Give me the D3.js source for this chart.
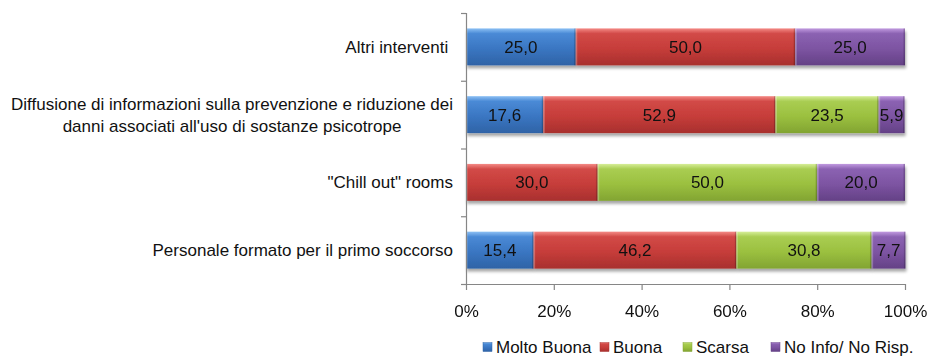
<!DOCTYPE html>
<html>
<head>
<meta charset="utf-8">
<script src="https://cdn.jsdelivr.net/npm/d3@7"></script>
<style>
  html, body { margin: 0; padding: 0; background: #fff; }
  svg { display: block; font-family: "Liberation Sans", Arial, sans-serif; }
</style>
</head>
<body>
<svg id="chart" width="928" height="356"></svg>
<script>
// Categories, top to bottom
const categories = [
  "Altri interventi ",
  "Diffusione di informazioni sulla prevenzione e riduzione dei\ndanni associati all'uso di sostanze psicotrope",
  "\"Chill out\" rooms",
  "Personale formato per il primo soccorso"
];
const seriesNames = ["Molto Buona", "Buona", "Scarsa", "No Info/ No Risp."];
const molto = [25.0, 17.6, 0, 15.4];
const buona = [50.0, 52.9, 30.0, 46.2];
const scarsa = [0, 23.5, 50.0, 30.8];
const noInfo = [25.0, 5.9, 20.0, 7.7];
const tickValues = [0, 20, 40, 60, 80, 100];

const seriesValues = [molto, buona, scarsa, noInfo];
const palette = [
  { top: "#8cc0f4", mid: "#4a8ad6", base: "#3a76c2", dark: "#2f63a6" },
  { top: "#f48a86", mid: "#d24a47", base: "#c63d3a", dark: "#a8302e" },
  { top: "#d6ee98", mid: "#a9cd52", base: "#9bc03f", dark: "#82a432" },
  { top: "#c19ae0", mid: "#8b62b2", base: "#7d54a2", dark: "#644186" }
];
const FS = 17;

const svg = d3.select("#chart");
const margin = { left: 466, right: 23, top: 13, bottom: 72 };
const W = 928, H = 356;

const x = d3.scaleLinear().domain([0, 100]).range([margin.left, W - margin.right]);
const y = d3.scaleBand().domain(d3.range(categories.length))
  .range([margin.top, H - margin.bottom]).paddingInner(0.455).paddingOuter(0.2275);

const defs = svg.append("defs");
palette.forEach((c, i) => {
  const g = defs.append("linearGradient").attr("id", "g" + i)
    .attr("x1", 0).attr("y1", 0).attr("x2", 0).attr("y2", 1);
  g.append("stop").attr("offset", "0%").attr("stop-color", c.top);
  g.append("stop").attr("offset", "14%").attr("stop-color", c.mid);
  g.append("stop").attr("offset", "55%").attr("stop-color", c.base);
  g.append("stop").attr("offset", "100%").attr("stop-color", c.dark);
});
const shadow = defs.append("filter").attr("id", "shadow")
  .attr("x", "-5%").attr("y", "-20%").attr("width", "110%").attr("height", "160%");
shadow.append("feGaussianBlur").attr("in", "SourceAlpha").attr("stdDeviation", 1.6);
shadow.append("feOffset").attr("dx", 1).attr("dy", 2.5).attr("result", "off");
shadow.append("feComponentTransfer").append("feFuncA").attr("type", "linear").attr("slope", 0.35);
const merge = shadow.append("feMerge");
merge.append("feMergeNode");
merge.append("feMergeNode").attr("in", "SourceGraphic");

// Stack the series per category
const rows = categories.map((c, i) => {
  const r = { idx: i };
  seriesNames.forEach((s, k) => { r[s] = seriesValues[k][i]; });
  return r;
});
const stacked = d3.stack().keys(seriesNames)(rows);

// Bars
const barLayer = svg.append("g");
stacked.forEach((layer, k) => {
  const g = barLayer.append("g").attr("filter", "url(#shadow)");
  layer.forEach((d, i) => {
    const v = seriesValues[k][i];
    if (!v) return;
    const x0 = x(d[0]), x1 = x(d[1]), yy = y(i), bh = y.bandwidth();
    g.append("rect").attr("x", x0).attr("y", yy).attr("width", x1 - x0).attr("height", bh)
      .attr("fill", `url(#g${k})`);
    // thin bevel edges
    g.append("rect").attr("x", x0).attr("y", yy).attr("width", 1.5).attr("height", bh)
      .attr("fill", "#ffffff").attr("opacity", 0.25);
    g.append("rect").attr("x", x1 - 1.5).attr("y", yy).attr("width", 1.5).attr("height", bh)
      .attr("fill", "#000000").attr("opacity", 0.18);
  });
});

// Value labels
stacked.forEach((layer, k) => {
  layer.forEach((d, i) => {
    const v = seriesValues[k][i];
    if (!v) return;
    svg.append("text")
      .attr("x", (x(d[0]) + x(d[1])) / 2)
      .attr("y", y(i) + y.bandwidth() / 2)
      .attr("dy", "0.36em")
      .attr("text-anchor", "middle")
      .attr("font-size", FS)
      .attr("fill", "#111")
      .text(v.toFixed(1).replace(".", ","));
  });
});

// Category axis (left)
const yAxis = d3.axisLeft(d3.scaleLinear().domain([0, categories.length]).range([margin.top, H - margin.bottom]))
  .tickValues(d3.range(categories.length + 1)).tickSize(5).tickFormat("");
const gy = svg.append("g").attr("transform", `translate(${margin.left},0)`).call(yAxis);
gy.select(".domain").attr("stroke", "#868686").attr("stroke-width", 1.2);
gy.selectAll(".tick line").attr("stroke", "#868686").attr("stroke-width", 1.2);

// Category labels: multi-line labels are centred as a block, right edge near the axis
categories.forEach((c, i) => {
  const lines = c.split("\n");
  const cy = y(i) + y.bandwidth() / 2;
  const lh = 22;
  const t = svg.append("text").attr("font-size", FS).attr("fill", "#111")
    .attr("text-anchor", "middle").attr("xml:space", "preserve");
  lines.forEach((ln, j) => {
    t.append("tspan").attr("x", 0).attr("y", cy + (j - (lines.length - 1) / 2) * lh).attr("dy", "0.36em").text(ln);
  });
  const w = d3.max(t.selectAll("tspan").nodes(), n => n.getComputedTextLength());
  const right = margin.left - 13;
  t.selectAll("tspan").attr("x", right - w / 2);
});

// Value axis (bottom)
const xAxis = d3.axisBottom(x).tickValues(tickValues).tickSize(6).tickPadding(15)
  .tickFormat(d => d + "%");
const gx = svg.append("g").attr("transform", `translate(0,${H - margin.bottom})`).call(xAxis);
gx.select(".domain").attr("stroke", "#868686").attr("stroke-width", 1.2)
  .attr("d", `M${margin.left - 4},0.5H${W - margin.right}`);
gx.selectAll(".tick line").attr("stroke", "#868686").attr("stroke-width", 1.2);
gx.selectAll(".tick text").attr("font-size", FS).attr("fill", "#111")
  .attr("font-family", "'Liberation Sans', Arial, sans-serif");

// Legend
const legendX = [483, 600, 683, 771];
const leg = svg.append("g");
seriesNames.forEach((s, k) => {
  const g = leg.append("g").attr("transform", `translate(${legendX[k]},347)`);
  g.append("rect").attr("x", 0).attr("y", -4.5).attr("width", 9).attr("height", 9)
    .attr("fill", `url(#g${k})`).attr("stroke", palette[k].dark).attr("stroke-width", 0.5);
  g.append("text").attr("x", 13).attr("dy", "0.36em").attr("font-size", FS).attr("fill", "#111").text(s);
});
</script>
</body>
</html>
